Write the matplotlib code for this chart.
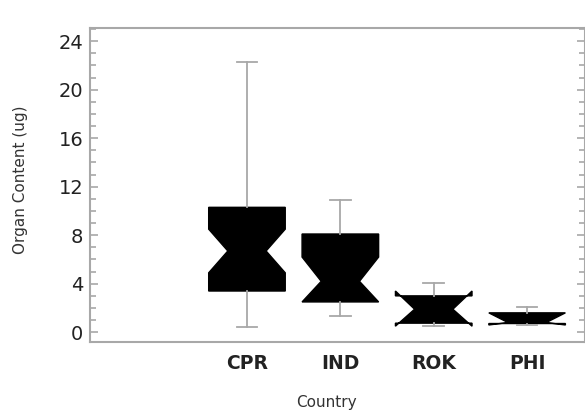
import matplotlib.pyplot as plt
from matplotlib.ticker import MultipleLocator

# values (ug)
countries = ["CPR", "IND", "ROK", "PHI"]
medians = [6.7, 4.2, 1.9, 0.8]
q1 = [3.4, 2.5, 0.75, 0.72]
q3 = [10.3, 8.1, 3.0, 1.6]
notch_lo = [4.9, 2.5, 0.5, 0.6]
notch_hi = [8.5, 6.2, 3.4, 1.6]
whisk_lo = [0.4, 1.3, 0.5, 0.6]
whisk_hi = [22.3, 10.9, 4.1, 2.1]

plt.rcParams['font.family'] = ['DejaVu Sans']

stats = []
for i in range(len(countries)):
    stats.append({
        "label": countries[i], "med": medians[i], "q1": q1[i], "q3": q3[i],
        "cilo": notch_lo[i], "cihi": notch_hi[i],
        "whislo": whisk_lo[i], "whishi": whisk_hi[i], "fliers": [],
    })

fig = plt.figure(figsize=(5.85, 4.15), dpi=100)
ax = fig.add_axes([0.154, 0.176, 0.846, 0.757])

gray = "#a8a8a8"
ax.bxp(stats, positions=[1, 2, 3, 4], widths=0.82, shownotches=True,
       patch_artist=True, showfliers=False,
       boxprops=dict(facecolor="black", edgecolor="black", linewidth=1),
       medianprops=dict(color="black", linewidth=0),
       whiskerprops=dict(color=gray, linewidth=1.3),
       capprops=dict(color=gray, linewidth=1.3),
       capwidths=0.22)

ax.set_xlim(-0.68, 4.62)
ax.set_ylim(-0.8, 25.1)
ax.yaxis.set_major_locator(MultipleLocator(4))
ax.yaxis.set_minor_locator(MultipleLocator(1))

for s in ax.spines.values():
    s.set_color(gray)
    s.set_linewidth(1.5)

ax.tick_params(axis="y", which="both", direction="in", right=True, color=gray,
               labelsize=14, width=1.2, pad=5)
ax.tick_params(axis="y", which="major", length=6)
ax.tick_params(axis="y", which="minor", length=4)
ax.tick_params(axis="x", length=0, pad=9, labelsize=13.5)
for lab in ax.get_xticklabels():
    lab.set_fontweight("bold")
    lab.set_color("#222222")
for lab in ax.get_yticklabels():
    lab.set_color("#222222")

ax.set_xlabel("Country", fontsize=11, color="#333333")
ax.set_ylabel("Organ Content (ug)", fontsize=11, color="#333333")
ax.xaxis.set_label_coords(0.477, -0.17)
ax.yaxis.set_label_coords(-0.125, 0.516)

fig.savefig("out.png", dpi=100)
